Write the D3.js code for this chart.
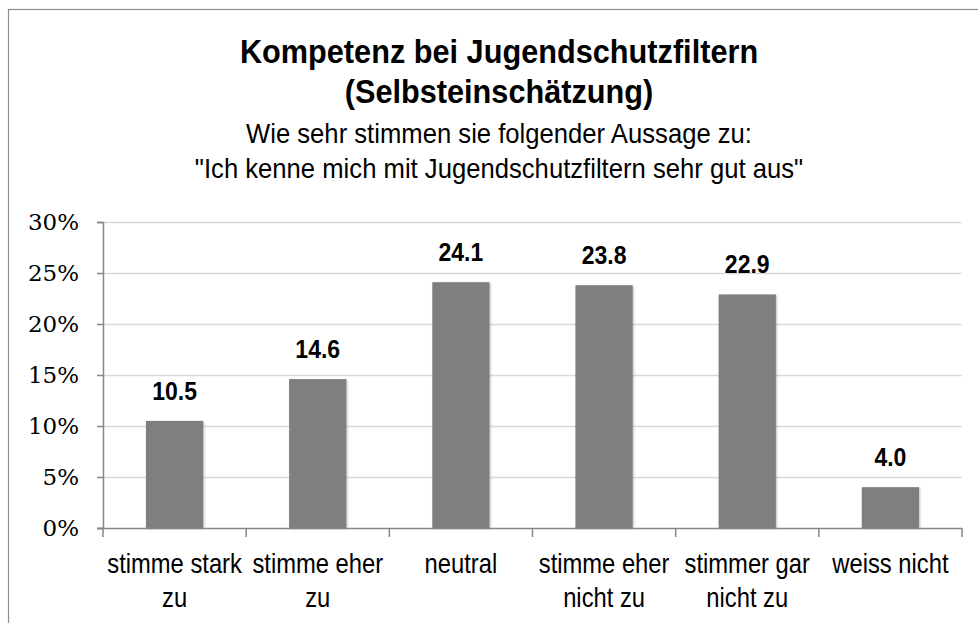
<!DOCTYPE html>
<html>
<head>
<meta charset="utf-8">
<script src="https://cdn.jsdelivr.net/npm/d3@7"></script>
<style>
  body { margin: 0; background: #fff; }
  svg { display: block; }
</style>
</head>
<body>
<div id="chart"></div>
<script>
// data
var categories = ["stimme stark\nzu", "stimme eher\nzu", "neutral", "stimme eher\nnicht zu", "stimmer gar\nnicht zu", "weiss nicht"];
var values = [10.5, 14.6, 24.1, 23.8, 22.9, 4.0];
var yTicks = [0, 5, 10, 15, 20, 25, 30];
var titleLines = ["Kompetenz bei Jugendschutzfiltern", "(Selbsteinschätzung)"];
var subtitleLines = ["Wie sehr stimmen sie folgender Aussage zu:", "\"Ich kenne mich mit Jugendschutzfiltern sehr gut aus\""];

d3.barChart = function module() {
    var width = 978,
        height = 623,
        margin = {top: 222, right: 16, bottom: 95, left: 103},
        sans = "'Liberation Sans', Arial, sans-serif",
        serif = "'DejaVu Serif', serif",
        axisColor = "#868686",
        gridColor = "#d9d9d9",
        barColor = "#7f7f7f";

    function exports(_selection) {
        _selection.each(function() {
            var svg = d3.select(this).append("svg")
                .attr("width", width)
                .attr("height", height);

            var defs = svg.append("defs");
            var shadow = defs.append("filter").attr("id", "shadow")
                .attr("x", "-10%").attr("y", "-10%").attr("width", "130%").attr("height", "130%");
            shadow.append("feDropShadow")
                .attr("dx", 1).attr("dy", 1).attr("stdDeviation", 1)
                .attr("flood-color", "#000").attr("flood-opacity", 0.25);

            // outer frame (only top and left are visible in the picture)
            svg.append("rect")
                .attr("x", 8.5).attr("y", 9.5)
                .attr("width", width + 20).attr("height", height + 20)
                .attr("fill", "none").attr("stroke", "#8c8c8c").attr("stroke-width", 1.2);

            var cx = 499;
            // condensed text helper
            function label(g, x, y, text, size, weight, sx, anchor) {
                return g.append("text")
                    .attr("transform", "translate(" + x + "," + y + ") scale(" + sx + ",1)")
                    .attr("text-anchor", anchor || "middle")
                    .style("font-family", sans)
                    .style("font-size", size + "px")
                    .style("font-weight", weight)
                    .attr("fill", "#000")
                    .text(text);
            }

            titleLines.forEach(function(t, i) {
                label(svg, cx, 63 + i * 40, t, 33, "bold", 0.93);
            });
            subtitleLines.forEach(function(t, i) {
                label(svg, cx, 143 + i * 35, t, 27, "normal", 0.95);
            });

            var innerW = width - margin.left - margin.right,
                innerH = height - margin.top - margin.bottom;

            var x = d3.scaleBand().domain(categories).range([0, innerW]).padding(0);
            var y = d3.scaleLinear().domain([0, 30]).range([innerH, 0]);

            var g = svg.append("g")
                .attr("transform", "translate(" + margin.left + "," + margin.top + ")");

            // gridlines
            g.selectAll("line.grid")
                .data(yTicks.filter(function(d) { return d > 0; }))
                .enter().append("line")
                .attr("class", "grid")
                .attr("x1", 0).attr("x2", innerW)
                .attr("y1", function(d) { return Math.round(y(d)) + 0.5; })
                .attr("y2", function(d) { return Math.round(y(d)) + 0.5; })
                .attr("stroke", gridColor).attr("stroke-width", 1.5);

            // y axis
            var yAxis = d3.axisLeft(y).tickValues(yTicks).tickSize(6).tickPadding(18)
                .tickFormat(function(d) { return d + "%"; });
            var ya = g.append("g").call(yAxis);
            ya.select(".domain").attr("stroke", axisColor).attr("stroke-width", 1.5);
            ya.selectAll(".tick line").attr("stroke", axisColor).attr("stroke-width", 1.5);
            ya.selectAll(".tick text")
                .style("font-family", serif).style("font-size", "23px").attr("fill", "#000");

            // bars
            var bw = x.bandwidth() * 0.4;
            g.selectAll("rect.bar")
                .data(values)
                .enter().append("rect")
                .attr("class", "bar")
                .attr("x", function(d, i) { return x(categories[i]) + (x.bandwidth() - bw) / 2; })
                .attr("y", function(d) { return y(d); })
                .attr("width", bw)
                .attr("height", function(d) { return innerH - y(d); })
                .attr("fill", barColor)
                .style("filter", "url(#shadow)");

            // x axis
            var xa = g.append("g").attr("transform", "translate(0," + innerH + ")");
            xa.append("line")
                .attr("x1", -6).attr("x2", innerW)
                .attr("y1", 0.5).attr("y2", 0.5)
                .attr("stroke", axisColor).attr("stroke-width", 1.5);
            var bounds = categories.map(function(c) { return x(c); }).concat([innerW]);
            xa.selectAll("line.xtick")
                .data(bounds)
                .enter().append("line")
                .attr("class", "xtick")
                .attr("x1", function(d) { return d; }).attr("x2", function(d) { return d; })
                .attr("y1", 0).attr("y2", 9)
                .attr("stroke", axisColor).attr("stroke-width", 1.5);

            categories.forEach(function(c, i) {
                var px = x(c) + x.bandwidth() / 2;
                c.split("\n").forEach(function(line, j) {
                    label(xa, px, 45 + j * 34, line, 27, "normal", 0.88);
                });
            });

            // value labels
            values.forEach(function(v, i) {
                var px = x(categories[i]) + x.bandwidth() / 2;
                label(g, px, y(v) - 21, v.toFixed(1), 25, "bold", 0.92);
            });
        });
    }

    exports.width = function(_x) {
        if (!arguments.length) return width;
        width = parseInt(_x);
        return this;
    };
    exports.height = function(_x) {
        if (!arguments.length) return height;
        height = parseInt(_x);
        return this;
    };

    return exports;
};

var chart = d3.barChart();
d3.select("#chart").call(chart);
</script>
</body>
</html>
